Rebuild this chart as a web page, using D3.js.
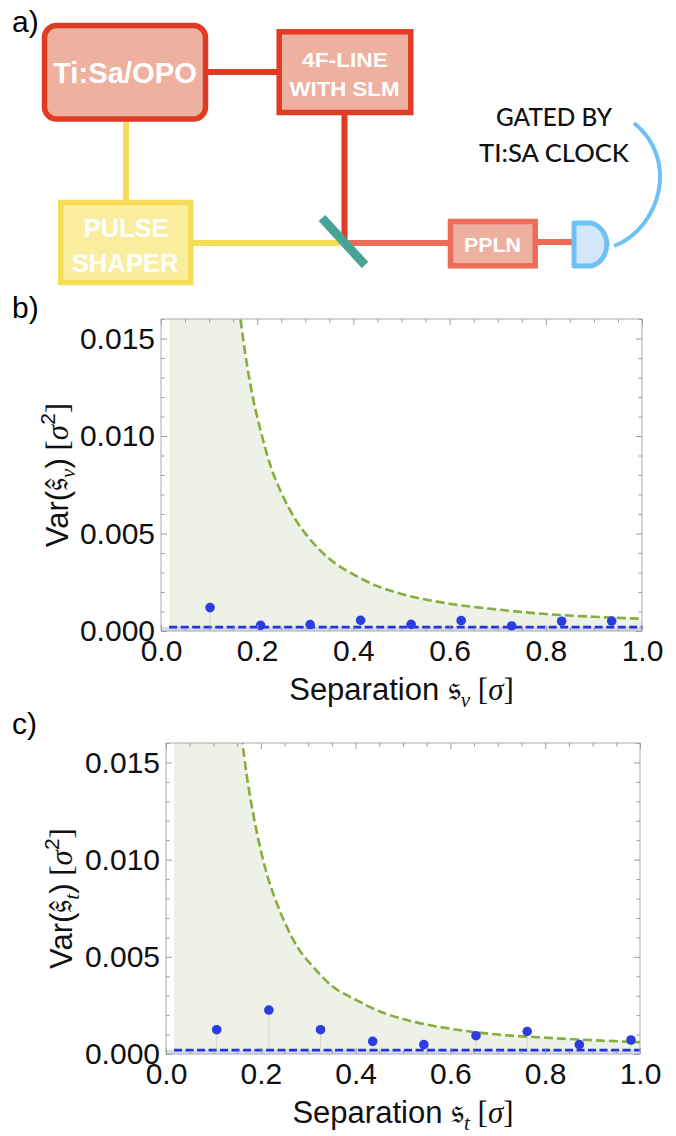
<!DOCTYPE html>
<html>
<head>
<meta charset="utf-8">
<script src="https://cdn.jsdelivr.net/npm/d3@7"></script>
<style>
  body { margin: 0; background: #fff; }
  svg { display: block; }
</style>
</head>
<body>
<script>
// ......................
// Data

// panel b) spectral separation
var sepNu = [0.102, 0.207, 0.310, 0.415, 0.520, 0.624, 0.729, 0.833, 0.937];
var varNu = [0.00120, 0.00029, 0.00033, 0.00055, 0.00034, 0.00053, 0.00026, 0.00050, 0.00051];
var limitNu = 0.0002;

// panel c) temporal separation
var sepT = [0.107, 0.217, 0.326, 0.436, 0.544, 0.654, 0.762, 0.872, 0.981];
var varT = [0.00125, 0.00226, 0.00125, 0.00065, 0.00048, 0.00094, 0.00116, 0.00048, 0.00072];
var limitT = 0.0002;

// green dashed bound, sampled along the curve
var boundX  = [0.15, 0.17, 0.19, 0.21, 0.23, 0.25, 0.28, 0.31, 0.35, 0.40, 0.45, 0.50, 0.60, 0.70, 0.80, 0.90, 1.00];
var boundNu = [0.0193, 0.0151, 0.0121, 0.0100, 0.0083, 0.0071, 0.0057, 0.0047, 0.0037, 0.0029, 0.0023, 0.0019, 0.0014, 0.0011, 0.00087, 0.00073, 0.00063];
var boundT  = [0.0184, 0.0144, 0.0116, 0.0095, 0.0080, 0.0068, 0.0054, 0.0045, 0.0035, 0.0028, 0.0022, 0.0018, 0.0013, 0.0010, 0.00084, 0.00071, 0.00061];
var shadeStart = 0.017;

// axes
var xTicks = [0, 0.2, 0.4, 0.6, 0.8, 1.0];
var yTicks = [0, 0.005, 0.010, 0.015];
var xDomain = [0, 1];
var yDomain = [0, 0.016];

// ......................
// SVG area
var svgWidth = 676;
var svgHeight = 1136;

var svg = d3.select("body")
    .append("svg")
    .attr("width", svgWidth)
    .attr("height", svgHeight);

svg.append("rect").attr("width", svgWidth).attr("height", svgHeight).attr("fill", "#fff");

var sans = "'Liberation Sans', Arial, sans-serif";
var serif = "'Liberation Serif', 'Times New Roman', serif";
var frak = "'DejaVu Serif', 'DejaVu Sans', serif";

// ......................
// a) setup sketch
var red = "#e03b24", salmon = "#eeb09f", coral = "#ee6b57";
var yellow = "#f6dd55", paleYellow = "#f9eda0";
var teal = "#47a396", sky = "#6fc0f7", paleSky = "#d3e7fb";

svg.append("text")
    .attr("x", 12).attr("y", 32)
    .attr("font-family", sans).attr("font-size", 30)
    .text("a)");

var setup = svg.append("g").attr("class", "setup");

var beams = [
    { p: [[208, 72], [278, 72]], c: red },
    { p: [[344.5, 114], [344.5, 243]], c: red },
    { p: [[344.5, 243], [449, 243]], c: coral },
    { p: [[536, 242], [573, 242]], c: coral },
    { p: [[126, 120], [126, 202]], c: yellow },
    { p: [[192, 243], [340, 243]], c: yellow }
];
setup.selectAll("line.beam").data(beams).enter()
    .append("line")
    .attr("class", "beam")
    .attr("x1", d => d.p[0][0]).attr("y1", d => d.p[0][1])
    .attr("x2", d => d.p[1][0]).attr("y2", d => d.p[1][1])
    .attr("stroke", d => d.c)
    .attr("stroke-width", 6);

// beam splitter
setup.append("line")
    .attr("x1", 322).attr("y1", 218).attr("x2", 365).attr("y2", 265)
    .attr("stroke", teal).attr("stroke-width", 9);

var boxes = [
    { x: 44.5, y: 25.5, w: 161, h: 93.5, rx: 12, s: red, f: salmon },
    { x: 279.2, y: 31.8, w: 131.6, h: 80.7, rx: 0, s: red, f: salmon },
    { x: 60.8, y: 202.5, w: 130, h: 80, rx: 0, s: yellow, f: paleYellow },
    { x: 450.5, y: 221.5, w: 84.7, h: 44.3, rx: 0, s: coral, f: salmon }
];
setup.selectAll("rect.box").data(boxes).enter()
    .append("rect")
    .attr("class", "box")
    .attr("x", d => d.x).attr("y", d => d.y)
    .attr("width", d => d.w).attr("height", d => d.h)
    .attr("rx", d => d.rx)
    .attr("fill", d => d.f).attr("stroke", d => d.s)
    .attr("stroke-width", 5.5);

// detector + gate cable
setup.append("path")
    .attr("d", "M574,223 L592,223 A21,22.5 0 0 1 592,266 L574,266 Z")
    .attr("fill", paleSky).attr("stroke", sky).attr("stroke-width", 5)
    .attr("stroke-linejoin", "round");
setup.append("path")
    .attr("d", "M614,246 C660,228 680,160 634,123")
    .attr("fill", "none").attr("stroke", sky).attr("stroke-width", 4);

var boxText = [
    { t: "Ti:Sa/OPO", x: 125, y: 83, s: 29, L: 144 },
    { t: "4F-LINE", x: 345, y: 66.7, s: 21, L: 86 },
    { t: "WITH SLM", x: 344.5, y: 96, s: 21, L: 110 },
    { t: "PULSE", x: 126, y: 236.7, s: 25, L: 85 },
    { t: "SHAPER", x: 125, y: 271.7, s: 25, L: 107 },
    { t: "PPLN", x: 492.5, y: 251.7, s: 21, L: 57 }
];
setup.selectAll("text.boxlabel").data(boxText).enter()
    .append("text")
    .attr("class", "boxlabel")
    .attr("x", d => d.x).attr("y", d => d.y)
    .attr("text-anchor", "middle")
    .attr("font-family", sans).attr("font-weight", "bold")
    .attr("font-size", d => d.s)
    .attr("textLength", d => d.L).attr("lengthAdjust", "spacingAndGlyphs")
    .attr("fill", "#fff")
    .text(d => d.t);

var gateText = [
    { t: "GATED BY", y: 125.7, L: 116 },
    { t: "TI:SA CLOCK", y: 162.3, L: 150 }
];
setup.selectAll("text.gate").data(gateText).enter()
    .append("text")
    .attr("class", "gate")
    .attr("x", 554).attr("y", d => d.y)
    .attr("text-anchor", "middle")
    .attr("font-family", "Lato, 'Noto Sans', sans-serif")
    .attr("font-size", 25).attr("font-weight", 500)
    .attr("textLength", d => d.L).attr("lengthAdjust", "spacingAndGlyphs")
    .attr("fill", "#111")
    .text(d => d.t);

// ......................
// b) and c) variance plots
var panels = [
    { id: "b", label: "b)", labelY: 318, left: 161, right: 642, top: 319, bottom: 631,
      sep: sepNu, vars: varNu, bound: boundNu, limit: limitNu, sub: "\u03BD",
      yTitleX: 68, xTitleY: 700 },
    { id: "c", label: "c)", labelY: 734, left: 166, right: 640, top: 743, bottom: 1054,
      sep: sepT, vars: varT, bound: boundT, limit: limitT, sub: "t",
      yTitleX: 72, xTitleY: 1123 }
];

function addParts(text, parts) {
    parts.forEach(p => {
        let t = text.append("tspan").text(p.s);
        if (p.f) t.attr("font-family", p.f);
        if (p.i) t.attr("font-style", "italic");
        if (p.size) t.attr("font-size", p.size);
        if (p.dy) t.attr("dy", p.dy);
    });
}

function minorTicks(step, lo, hi) {
    let out = [];
    for (let v = lo; v <= hi + 1e-9; v += step) out.push(+v.toFixed(4));
    return out;
}

panels.forEach(P => {
    let x = d3.scaleLinear().domain(xDomain).range([P.left, P.right]);
    let y = d3.scaleLinear().domain(yDomain).range([P.bottom, P.top]);

    svg.append("text")
        .attr("x", 12).attr("y", P.labelY)
        .attr("font-family", sans).attr("font-size", 30)
        .text(P.label);

    let clipId = "clip-" + P.id;
    svg.append("clipPath").attr("id", clipId)
        .append("rect")
        .attr("x", P.left).attr("y", P.top)
        .attr("width", P.right - P.left).attr("height", P.bottom - P.top);

    let plot = svg.append("g").attr("clip-path", `url(#${clipId})`);

    let pts = boundX.map((bx, i) => ({ x: bx, y: P.bound[i] }));
    let shadePts = [{ x: shadeStart, y: P.bound[0] }].concat(pts);

    // shaded region under the bound
    plot.append("path")
        .datum(shadePts)
        .attr("fill", "#eef1e7")
        .attr("d", d3.area()
            .x(d => x(d.x)).y0(y(0)).y1(d => y(d.y))
            .curve(d3.curveMonotoneX));

    // band under the limit line
    plot.append("rect")
        .attr("x", x(xDomain[0])).attr("width", x(xDomain[1]) - x(xDomain[0]))
        .attr("y", y(P.limit)).attr("height", y(0) - y(P.limit))
        .attr("fill", "#d6d9ef");

    let points = P.sep.map((s, i) => ({ x: s, y: P.vars[i] }));

    // stems
    plot.selectAll("line.stem").data(points).enter()
        .append("line")
        .attr("class", "stem")
        .attr("x1", d => x(d.x)).attr("x2", d => x(d.x))
        .attr("y1", d => y(d.y)).attr("y2", y(0))
        .attr("stroke", "#d3dcc2").attr("stroke-width", 1);

    // limit (blue dashed)
    plot.append("line")
        .attr("x1", x(shadeStart)).attr("x2", x(xDomain[1]))
        .attr("y1", y(P.limit)).attr("y2", y(P.limit))
        .attr("stroke", "#2233e0").attr("stroke-width", 2.6)
        .attr("stroke-dasharray", "8,3.5");

    // bound (green dashed)
    plot.append("path")
        .datum(pts)
        .attr("fill", "none")
        .attr("stroke", "#88ad3c").attr("stroke-width", 2.6)
        .attr("stroke-dasharray", "9,4")
        .attr("d", d3.line().x(d => x(d.x)).y(d => y(d.y)).curve(d3.curveMonotoneX));

    // measured points
    plot.selectAll("circle.pt").data(points).enter()
        .append("circle")
        .attr("class", "pt")
        .attr("cx", d => x(d.x)).attr("cy", d => y(d.y))
        .attr("r", 4.8)
        .attr("fill", "#2b3ce2");

    // ......................
    // frame with inward ticks
    let tickCol = "#999";
    let xMinor = minorTicks(0.05, 0, 1).filter(v => xTicks.indexOf(v) < 0);
    let yMinor = minorTicks(0.001, 0, 0.016).filter(v => yTicks.indexOf(v) < 0);

    let axes = [
        { a: d3.axisBottom(x).tickValues(xTicks).tickSizeInner(-6).tickPadding(9), t: `translate(0,${P.bottom})`, lab: true },
        { a: d3.axisBottom(x).tickValues(xMinor).tickSizeInner(-3.5).tickFormat(""), t: `translate(0,${P.bottom})` },
        { a: d3.axisTop(x).tickValues(xTicks).tickSizeInner(-6).tickFormat(""), t: `translate(0,${P.top})` },
        { a: d3.axisTop(x).tickValues(xMinor).tickSizeInner(-3.5).tickFormat(""), t: `translate(0,${P.top})` },
        { a: d3.axisLeft(y).tickValues(yTicks).tickSizeInner(-6).tickPadding(6).tickFormat(d3.format(".3f")), t: `translate(${P.left},0)`, lab: true },
        { a: d3.axisLeft(y).tickValues(yMinor).tickSizeInner(-3.5).tickFormat(""), t: `translate(${P.left},0)` },
        { a: d3.axisRight(y).tickValues(yTicks).tickSizeInner(-6).tickFormat(""), t: `translate(${P.right},0)` },
        { a: d3.axisRight(y).tickValues(yMinor).tickSizeInner(-3.5).tickFormat(""), t: `translate(${P.right},0)` }
    ];
    axes.forEach(A => {
        let g = svg.append("g").attr("transform", A.t).call(A.a.tickSizeOuter(0));
        g.select(".domain").remove();
        g.selectAll("line").attr("stroke", tickCol);
        g.selectAll("text")
            .attr("font-family", sans).attr("font-size", 30).attr("fill", "#111");
        if (!A.lab) g.selectAll("text").remove();
    });

    svg.append("rect")
        .attr("x", P.left).attr("y", P.top)
        .attr("width", P.right - P.left).attr("height", P.bottom - P.top)
        .attr("fill", "none").attr("stroke", "#aaa").attr("stroke-width", 1);

    // axis titles
    let xt = svg.append("text")
        .attr("x", (P.left + P.right) / 2).attr("y", P.xTitleY)
        .attr("text-anchor", "middle")
        .attr("font-family", sans).attr("font-size", 31).attr("fill", "#111");
    addParts(xt, [
        { s: "Separation " },
        { s: "\uD835\uDD30", f: frak, size: 34 },
        { s: P.sub, f: serif, i: true, size: 21, dy: 7 },
        { s: " [", f: serif, dy: -7 },
        { s: "\u03C3", f: serif, i: true },
        { s: "]", f: serif }
    ]);

    let yt = svg.append("text")
        .attr("transform", `translate(${P.yTitleX},${(P.top + P.bottom) / 2}) rotate(-90)`)
        .attr("text-anchor", "middle")
        .attr("font-family", sans).attr("font-size", 31).attr("fill", "#111");
    addParts(yt, [
        { s: "Var(" },
        { s: "\uD835\uDD30\u0302", f: frak, size: 34 },
        { s: P.sub, f: serif, i: true, size: 21, dy: 7 },
        { s: ")", dy: -7 },
        { s: " [", f: serif },
        { s: "\u03C3", f: serif, i: true },
        { s: "2", size: 21, dy: -13 },
        { s: "]", f: serif, dy: 13 }
    ]);
});
</script>
</body>
</html>
